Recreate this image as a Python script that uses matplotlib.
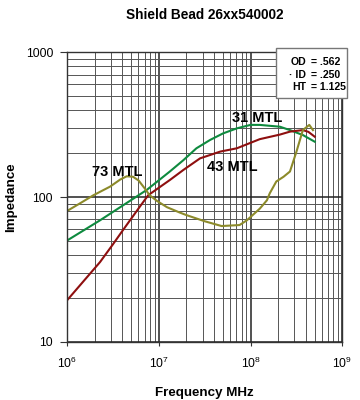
import numpy as np
import matplotlib
matplotlib.use("Agg")
import matplotlib.pyplot as plt
from matplotlib.patches import Rectangle
from matplotlib.ticker import LogLocator, NullFormatter

plt.rcParams["font.family"] = ["Liberation Sans", "DejaVu Sans"]
plt.rcParams["mathtext.fontset"] = "custom"
plt.rcParams["mathtext.rm"] = "Liberation Sans"

# ── data (frequency in Hz, impedance in ohms) ─────────────────────
freq_31 = [1e6, 2.29e6, 7.41e6, 1.32e7, 1.86e7, 2.57e7, 3.63e7, 5.01e7,
           7.08e7, 1.0e8, 1.26e8, 2.09e8, 2.69e8, 3.72e8, 5.01e8]
imp_31 = [50, 69, 112, 150, 180, 217, 248, 275, 298, 315, 315, 306, 290,
          268, 241]

freq_43 = [1e6, 2.29e6, 3.16e6, 4.07e6, 6.24e6, 7.69e6, 1.32e7, 1.86e7,
           2.82e7, 4.68e7, 7.08e7, 1.26e8, 2.09e8, 2.69e8, 3.72e8, 4.27e8,
           5.01e8]
imp_43 = [19.3, 35.5, 47, 59, 86, 103, 131, 154, 185, 206, 217, 251, 270,
          283, 290, 282, 261]

freq_73 = [1e6, 1.41e6, 1.95e6, 2.95e6, 3.80e6, 4.47e6, 5.25e6, 6.03e6,
           7.08e6, 7.94e6, 9.55e6, 1.23e7, 1.70e7, 2.0e7, 3.16e7, 4.84e7,
           7.59e7, 9.12e7, 1.26e8, 1.51e8, 1.62e8, 1.91e8, 2.29e8, 2.69e8,
           3.16e8, 3.72e8, 4.37e8, 4.79e8]
imp_73 = [80, 91, 103, 118, 132, 139, 138, 130, 114, 103, 94, 85, 78, 75,
          68, 63, 64, 69, 83, 95, 106, 128, 138, 150, 205, 290, 315, 290]

dims_lbl = ["OD", "\u00b7 ID", "HT"]
dims_val = ["= .562", "= .250", "= 1.125"]

C_31 = "#0e8a3e"
C_43 = "#8e0f0f"
C_73 = "#8c8a2a"

fig = plt.figure(figsize=(3.6, 4.0), dpi=100)
ax = fig.add_axes([0.1861, 0.14575, 0.7647, 0.7235])

ax.plot(freq_31, imp_31, color=C_31, lw=1.5)
ax.plot(freq_43, imp_43, color=C_43, lw=1.5)
ax.plot(freq_73, imp_73, color=C_73, lw=1.5)

ax.set_xscale("log")
ax.set_yscale("log")
ax.set_xlim(1e6, 1e9)
ax.set_ylim(10, 1000)

ax.xaxis.set_minor_locator(LogLocator(base=10, subs=np.arange(2, 10)))
ax.yaxis.set_minor_locator(LogLocator(base=10, subs=np.arange(2, 10)))
ax.xaxis.set_minor_formatter(NullFormatter())
ax.yaxis.set_minor_formatter(NullFormatter())
ax.grid(which="major", color="#222222", lw=1.1)
ax.grid(which="minor", color="#555555", lw=0.7)
ax.set_axisbelow(True)

ax.set_xticks([1e6, 1e7, 1e8, 1e9])
ax.set_xticklabels([r"$\mathregular{10^{6}}$", r"$\mathregular{10^{7}}$",
                    r"$\mathregular{10^{8}}$", r"$\mathregular{10^{9}}$"])
ax.set_yticks([10, 100, 1000])
ax.set_yticklabels(["10", "100", "1000"])
ax.tick_params(which="major", labelsize=8.7, color="#333333")
ax.tick_params(axis="x", which="major", length=3, pad=7)
ax.tick_params(axis="y", which="major", length=5, pad=5)
ax.tick_params(which="minor", length=0)
for s in ax.spines.values():
    s.set_color("#333333")
    s.set_linewidth(1.0)

ax.set_xlabel("Frequency MHz", fontsize=9.6, fontweight="bold", labelpad=12)
ax.set_ylabel("Impedance", fontsize=9.6, fontweight="bold", labelpad=6)
fig.text(0.568, 0.962, "Shield Bead 26xx540002", ha="center", va="center",
         fontsize=9.8, fontweight="bold")

# curve labels
lbl_kw = dict(fontsize=10.5, fontweight="bold", ha="center", va="center")
ax.text(3.5e6, 149, "73 MTL", **lbl_kw)
ax.text(6.4e7, 161, "43 MTL", **lbl_kw)
ax.text(1.18e8, 352, "31 MTL", **lbl_kw)

# dimensions box
fig.patches.append(Rectangle((276 / 360, 1 - 97.7 / 400), 70.5 / 360,
                             49.4 / 400, transform=fig.transFigure,
                             facecolor="white", edgecolor="#777777", lw=1.0))
for i, (lab, val) in enumerate(zip(dims_lbl, dims_val)):
    y = 1 - (61.7 + i * 12.8) / 400
    fig.text(306 / 360, y, lab, ha="right", va="center", fontsize=7.6,
             fontweight="bold")
    fig.text(311 / 360, y, val, ha="left", va="center", fontsize=7.6,
             fontweight="bold")

fig.savefig("out.png", dpi=100)
